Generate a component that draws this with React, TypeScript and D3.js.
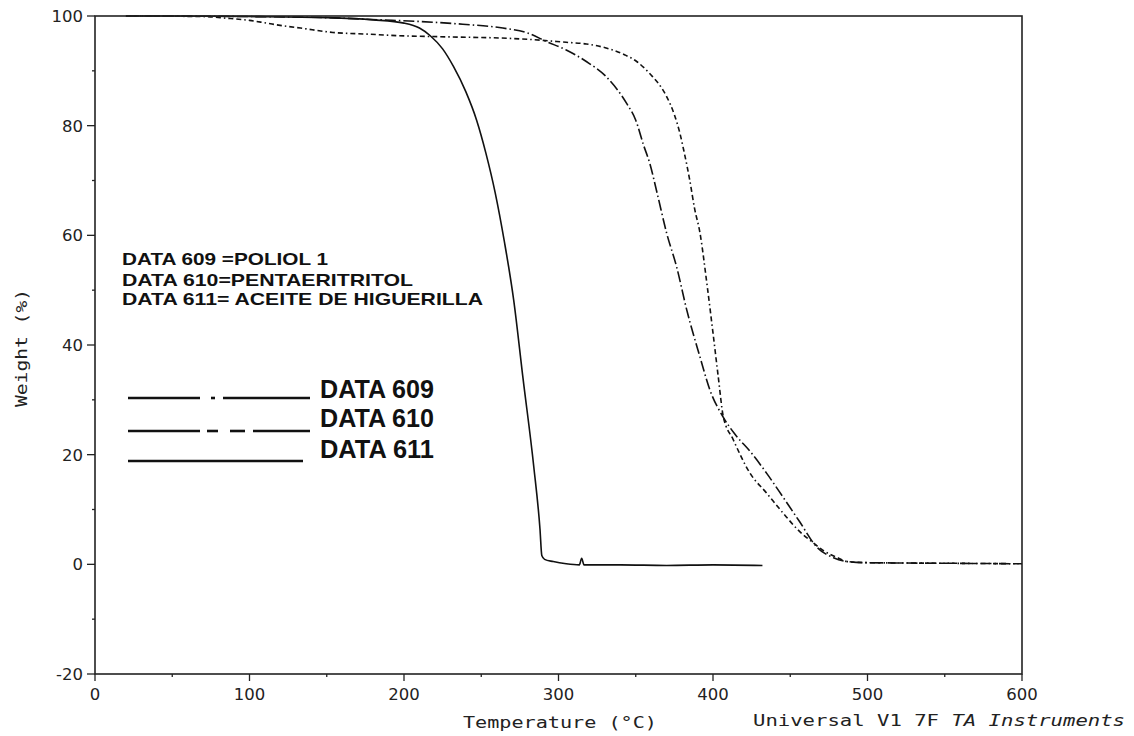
import React from "react";
import * as d3 from "d3";

// ---- data ----
const xTicks = [0, 100, 200, 300, 400, 500, 600];
const xMinor = [50, 150, 250, 350, 450, 550];
const yTicks = [-20, 0, 20, 40, 60, 80, 100];
const yMinor = [-10, 10, 30, 50, 70, 90];

// DATA 611 (solid)
const data611: [number, number][] = [
  [20, 100], [50, 100], [100, 99.9], [150, 99.7], [180, 99.3], [200, 98.7], [210, 97.8],
  [217, 96.4], [225, 94], [232, 90.8], [240, 86.2], [247, 81], [253, 75], [259, 67.8],
  [265, 58.8], [271, 48.2], [277, 34], [284, 17.8], [288, 6.5], [289.2, 1.6], [291, 0.9],
  [296.6, 0.5], [305, 0.1], [313.5, -0.1], [315, 1.1], [316.5, -0.1],
  [340, -0.1], [370, -0.2], [400, -0.1], [432, -0.2],
];

// DATA 609 (long dash - dot)
const data609: [number, number][] = [
  [20, 100], [100, 99.9], [150, 99.7], [184.5, 99.3], [210, 99], [238, 98.5], [264, 97.8],
  [280, 96.9], [292.5, 95.3], [305, 93.8], [318, 91.7], [331, 88.9], [344, 84.1], [350, 81],
  [355, 76.5], [359, 73.2], [364, 67.5], [370, 60.4], [376.5, 54.2], [383, 46.4], [391.6, 37.8],
  [398, 31.8], [406.5, 26.9], [414, 23.8], [424, 20.6], [435, 16.5], [445, 12.4], [456, 7.8],
  [467, 3.2], [478, 1.2], [487, 0.5], [500, 0.3], [550, 0.2], [600, 0.1],
];

// DATA 610 (dash - short dashes)
const data610: [number, number][] = [
  [20, 100], [70, 99.9], [85, 99.6], [100, 99.2], [111, 98.7], [122, 98.2], [133, 97.8],
  [154, 97], [176, 96.7], [197, 96.4], [227, 96.2], [270, 95.9], [288, 95.6], [305, 95.2],
  [318, 94.9], [335, 93.8], [343, 92.9], [350.6, 91.7], [361, 88.9], [366, 87.2], [370, 85.3],
  [375, 82], [378.6, 78.6], [381, 75.6], [385, 70], [388, 65], [391.6, 60.4], [396, 51.3],
  [400, 42.2], [403.4, 34.2], [406.7, 26.9], [413, 22.8], [424, 16.6], [434.7, 13],
  [445.5, 9.3], [456, 6], [465, 3.9], [472, 2.4], [480, 1.3], [487, 0.5], [500, 0.3],
  [550, 0.2], [600, 0.1],
];

const noteLines = [
  "DATA 609 =POLIOL 1",
  "DATA 610=PENTAERITRITOL",
  "DATA 611= ACEITE DE HIGUERILLA",
];
const legendLabels = ["DATA 609", "DATA 610", "DATA 611"];

export default function App() {
  const W = 1134, H = 736;
  const x = d3.scaleLinear().domain([0, 600]).range([95, 1022]);
  const y = d3.scaleLinear().domain([-20, 100]).range([674, 16]);
  const line = d3
    .line<[number, number]>()
    .x((d) => x(d[0]))
    .y((d) => y(d[1]))
    .curve(d3.curveMonotoneX);

  const tickFont = "'DejaVu Sans', sans-serif";
  const monoFont = "'DejaVu Sans Mono', monospace";
  const boldFont = "'Liberation Sans', Arial, sans-serif";

  const noteWidths = [206, 291, 361];
  const noteBase = [265, 286, 305];
  const legendBase = [398, 427, 458];

  return (
    <svg
      width={W}
      height={H}
      style={{ position: "absolute", left: 0, top: 0, background: "#fff" }}
    >
      <rect x={0} y={0} width={W} height={H} fill="#fff" />
      {/* curves */}
      <g fill="none" stroke="#111" strokeLinejoin="round">
        <path d={line(data611) || ""} strokeWidth={1.6} />
        <path d={line(data609) || ""} strokeWidth={1.6} strokeDasharray="11,3,1.5,3" />
        <path d={line(data610) || ""} strokeWidth={1.6} strokeDasharray="5,3,5,3,1.5,3" />
      </g>
      {/* frame */}
      <rect
        x={x(0)}
        y={y(100)}
        width={x(600) - x(0)}
        height={y(-20) - y(100)}
        fill="none"
        stroke="#222"
        strokeWidth={1.6}
      />
      {/* ticks */}
      <g stroke="#222" strokeWidth={1.3}>
        {yTicks.map((t) => (
          <line key={"y" + t} x1={x(0) - 8} x2={x(0)} y1={y(t)} y2={y(t)} />
        ))}
        {yMinor.map((t) => (
          <line key={"ym" + t} x1={x(0) - 3} x2={x(0)} y1={y(t)} y2={y(t)} />
        ))}
        {xTicks.map((t) => (
          <line key={"x" + t} x1={x(t)} x2={x(t)} y1={y(-20)} y2={y(-20) + 7} />
        ))}
        {xMinor.map((t) => (
          <line key={"xm" + t} x1={x(t)} x2={x(t)} y1={y(-20)} y2={y(-20) + 3} />
        ))}
      </g>
      <g fontFamily={tickFont} fontSize={16.5} fill="#222">
        {yTicks.map((t) => (
          <text key={"yl" + t} x={x(0) - 12} y={y(t) + 6} textAnchor="end">
            {t}
          </text>
        ))}
        {xTicks.map((t) => (
          <text key={"xl" + t} x={x(t)} y={700} textAnchor="middle">
            {t}
          </text>
        ))}
      </g>
      {/* axis titles */}
      <text
        x={560}
        y={728}
        textAnchor="middle"
        fontFamily={monoFont}
        fontSize={15}
        textLength={194}
        lengthAdjust="spacingAndGlyphs"
        fill="#222"
      >
        Temperature (°C)
      </text>
      <text
        transform={`translate(27,348) rotate(-90)`}
        textAnchor="middle"
        fontFamily={monoFont}
        fontSize={15}
        textLength={118}
        lengthAdjust="spacingAndGlyphs"
        fill="#222"
      >
        Weight (%)
      </text>
      <text
        x={753}
        y={726}
        fontFamily={monoFont}
        fontSize={15}
        textLength={372}
        lengthAdjust="spacingAndGlyphs"
        fill="#222"
      >
        Universal V1 7F <tspan fontStyle="italic">TA Instruments</tspan>
      </text>
      {/* notes */}
      <g fontFamily={boldFont} fontWeight="bold" fontSize={17} fill="#111">
        {noteLines.map((s, i) => (
          <text
            key={s}
            x={122}
            y={noteBase[i]}
            textLength={noteWidths[i]}
            lengthAdjust="spacingAndGlyphs"
          >
            {s}
          </text>
        ))}
      </g>
      {/* legend */}
      <g stroke="#111" strokeWidth={2.6}>
        <line x1={128} x2={200} y1={398} y2={398} />
        <line x1={211} x2={215} y1={398} y2={398} />
        <line x1={223} x2={310} y1={398} y2={398} />
        <line x1={128} x2={200} y1={431} y2={431} />
        <line x1={207} x2={218} y1={431} y2={431} />
        <line x1={230} x2={245} y1={431} y2={431} />
        <line x1={253} x2={310} y1={431} y2={431} />
        <line x1={128} x2={303} y1={461} y2={461} />
      </g>
      <g fontFamily={boldFont} fontWeight="bold" fontSize={26} fill="#111">
        {legendLabels.map((s, i) => (
          <text
            key={s}
            x={320}
            y={legendBase[i]}
            textLength={114}
            lengthAdjust="spacingAndGlyphs"
          >
            {s}
          </text>
        ))}
      </g>
    </svg>
  );
}
